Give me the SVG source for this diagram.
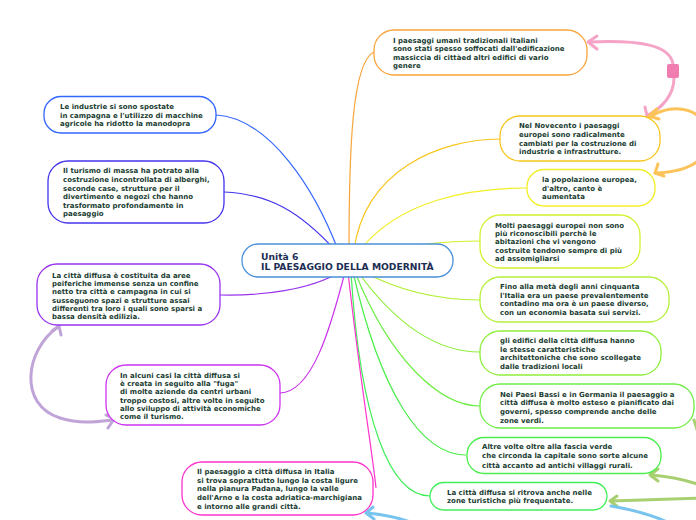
<svg xmlns="http://www.w3.org/2000/svg" width="696" height="520" viewBox="0 0 696 520">
<style>
.n{fill:#fff;stroke-width:1.3}
.t{font-family:"DejaVu Sans",Verdana,sans-serif;font-weight:bold;font-size:7px;fill:#1a3d32}
.c{font-family:"DejaVu Sans",Verdana,sans-serif;font-weight:bold;font-size:9.2px;fill:#1c2e54}
.l{fill:none;stroke-width:1.2}
.r{fill:none;stroke-width:3;stroke-linecap:round;stroke-linejoin:round}
</style>
<rect width="696" height="520" fill="#fff"/>
<g id="connectors">
<path class="l" stroke="#f7a53a" d="M349,250 C349,150 352,62 374,52"/>
<path class="l" stroke="#3366ff" d="M338,250 C315,190 270,118 216,115"/>
<path class="l" stroke="#4433ee" d="M335,250 C300,212 270,194 224,192"/>
<path class="l" stroke="#f8c51c" d="M354,250 C365,170 440,139 500,139"/>
<path class="l" stroke="#f2ee26" d="M360,250 C400,200 470,188 527,188"/>
<path class="l" stroke="#d4f02e" d="M365,255 C400,245 450,241 480,241"/>
<path class="l" stroke="#b4f038" d="M360,270 C400,292 440,300 480,300"/>
<path class="l" stroke="#90ee3c" d="M358,272 C400,330 440,352 480,352"/>
<path class="l" stroke="#6eed44" d="M355,272 C390,360 440,406 480,406"/>
<path class="l" stroke="#4aee4a" d="M353,272 C380,390 420,455 466,455"/>
<path class="l" stroke="#40ee58" d="M351,272 C360,420 390,496 430,496"/>
<path class="l" stroke="#ff33cc" d="M348,272 C360,380 372,450 376,488"/>
<path class="l" stroke="#9933ee" d="M340,272 C310,290 262,296 220,295"/>
<path class="l" stroke="#cc33ee" d="M345,272 C330,330 312,392 280,393"/>
<!-- relationship arrows -->
<path class="r" stroke="#f5a3c7" d="M673,64 C670,45 640,40 590,42"/>
<path class="r" stroke="#f5a3c7" d="M597,36 L588,42 L597,49"/>
<path class="r" stroke="#f5a3c7" d="M674,78 C674,95 662,108 648,115"/>
<path class="r" stroke="#f5a3c7" d="M645,107 L647,116 L656,113"/>
<rect x="667" y="64" width="12" height="14" rx="2" fill="#f07cb0"/>
<path class="r" stroke="#fcc35a" d="M650,117 C675,100 708,110 708,138 C708,165 680,172 655,173"/>
<path class="r" stroke="#fcc35a" d="M657,109 L649,116 L659,119"/>
<path class="r" stroke="#fcc35a" d="M658,164 L655,173 L664,176"/>
<path class="r" stroke="#c0a4d8" d="M58,327 C25,350 18,405 60,418 C80,424 95,422 112,420"/>
<path class="r" stroke="#c0a4d8" d="M52,331 L59,326 L61,335"/>
<path class="r" stroke="#c0a4d8" d="M106,415 L114,419 L108,428"/>
<path class="r" stroke="#a8d070" d="M700,485 C680,478 665,476 651,475"/>
<path class="r" stroke="#a8d070" d="M658,469 L650,475 L658,481"/>
<path class="r" stroke="#a8d070" d="M700,498 C670,499 640,500 611,501"/>
<path class="r" stroke="#a8d070" d="M617,496 L610,501 L617,506"/>
<path class="r" stroke="#a8d070" d="M700,440 C698,432 696,426 694,420"/>
<path class="r" stroke="#78c4ee" d="M611,506 C640,511 665,518 685,532"/>
<path class="r" stroke="#78c4ee" d="M367,513 C390,515 410,520 428,530"/>
<path class="r" stroke="#78c4ee" d="M373,507 L366,513 L374,519"/>
</g>
<g id="center">
<rect class="n" x="242" y="244" width="211" height="33" rx="16" stroke="#4a90d9"/>
<text class="c" x="261" y="259.5">Unità 6</text>
<text class="c" x="261" y="270">IL PAESAGGIO DELLA MODERNITÀ</text>
</g>
<g id="n1">
<rect class="n" x="374" y="30" width="213" height="45" rx="20" stroke="#f7a53a"/>
<text class="t" x="393"><tspan x="393" y="42.5">I paesaggi umani tradizionali italiani</tspan><tspan x="393" y="51">sono stati spesso soffocati dall'edificazione</tspan><tspan x="393" y="59.7">massiccia di cittàed altri edifici di vario</tspan><tspan x="393" y="68.2">genere</tspan></text>
</g>
<g id="n2">
<rect class="n" x="500" y="116" width="160" height="45" rx="20" stroke="#f8c51c"/>
<text class="t"><tspan x="519" y="128">Nel Novecento i paesaggi</tspan><tspan x="519" y="137">europei sono radicalmente</tspan><tspan x="519" y="146">cambiati per la costruzione di</tspan><tspan x="519" y="154.3">industrie e infrastrutture.</tspan></text>
</g>
<g id="n3">
<rect class="n" x="527" y="169.5" width="128" height="36.5" rx="17" stroke="#f2ee26"/>
<text class="t"><tspan x="542" y="182">la popolazione europea,</tspan><tspan x="542" y="191">d'altro, canto è</tspan><tspan x="542" y="199.3">aumentata</tspan></text>
</g>
<g id="n4">
<rect class="n" x="480" y="215" width="160" height="53" rx="20" stroke="#d4f02e"/>
<text class="t"><tspan x="495" y="227.5">Molti paesaggi europei non sono</tspan><tspan x="495" y="236">più riconoscibili perchè le</tspan><tspan x="495" y="244.3">abitazioni che vi vengono</tspan><tspan x="495" y="252.6">costruite tendono sempre di più</tspan><tspan x="495" y="261">ad assomigliarsi</tspan></text>
</g>
<g id="n5">
<rect class="n" x="480" y="277" width="189" height="45" rx="20" stroke="#b4f038"/>
<text class="t"><tspan x="500" y="288.5">Fino alla metà degli anni cinquanta</tspan><tspan x="500" y="297.5">l'Italia era un paese prevalentemente</tspan><tspan x="500" y="306">contadino ma ora è un paese diverso,</tspan><tspan x="500" y="315">con un economia basata sui servizi.</tspan></text>
</g>
<g id="n6">
<rect class="n" x="480" y="331" width="181" height="44" rx="20" stroke="#90ee3c"/>
<text class="t"><tspan x="500" y="343">gli edifici della città diffusa hanno</tspan><tspan x="500" y="351.7">le stesse caratteristiche</tspan><tspan x="500" y="360">architettoniche che sono scollegate</tspan><tspan x="500" y="368.5">dalle tradizioni locali</tspan></text>
</g>
<g id="n7">
<rect class="n" x="480" y="384" width="214" height="44" rx="20" stroke="#6eed44"/>
<text class="t"><tspan x="500" y="396.5">Nei Paesi Bassi e in Germania il paesaggio a</tspan><tspan x="500" y="405">città diffusa è molto esteso e pianificato dai</tspan><tspan x="500" y="413.5">governi, spesso comprende anche delle</tspan><tspan x="500" y="422.5">zone verdi.</tspan></text>
</g>
<g id="n8">
<rect class="n" x="467" y="437.5" width="194" height="36" rx="17" stroke="#4aee4a"/>
<text class="t"><tspan x="482" y="449">Altre volte oltre alla fascia verde</tspan><tspan x="482" y="458">che circonda la capitale sono sorte alcune</tspan><tspan x="482" y="467.5">città accanto ad antichi villaggi rurali.</tspan></text>
</g>
<g id="n9">
<rect class="n" x="430" y="482.5" width="177" height="27.5" rx="13.7" stroke="#40ee58"/>
<text class="t"><tspan x="447" y="494.8">La città diffusa si ritrova anche nelle</tspan><tspan x="447" y="503.2">zone turistiche più frequentate.</tspan></text>
</g>
<g id="n10">
<rect class="n" x="44" y="96.5" width="172" height="36.5" rx="17" stroke="#3366ff"/>
<text class="t"><tspan x="60" y="108.5">Le industrie si sono spostate</tspan><tspan x="60" y="117.5">in campagna e l'utilizzo di macchine</tspan><tspan x="60" y="126">agricole ha ridotto la manodopra</tspan></text>
</g>
<g id="n11">
<rect class="n" x="48" y="161" width="176" height="62" rx="20" stroke="#4433ee"/>
<text class="t"><tspan x="63" y="173">Il turismo di massa ha potrato alla</tspan><tspan x="63" y="182">costruzione incontrollata di alberghi,</tspan><tspan x="63" y="190.7">seconde case, strutture per il</tspan><tspan x="63" y="199">divertimento e negozi che hanno</tspan><tspan x="63" y="207.5">trasformato profondamente in</tspan><tspan x="63" y="216">paesaggio</tspan></text>
</g>
<g id="n12">
<rect class="n" x="37" y="264" width="183" height="61" rx="20" stroke="#9933ee"/>
<text class="t"><tspan x="52" y="277.5">La città diffusa è costituita da aree</tspan><tspan x="52" y="286">peiferiche immense senza un confine</tspan><tspan x="52" y="294.2">netto tra città e campagna in cui si</tspan><tspan x="52" y="302.5">susseguono spazi e strutture assai</tspan><tspan x="52" y="311">differenti tra loro i quali sono sparsi a</tspan><tspan x="52" y="319.3">bassa densità edilizia.</tspan></text>
</g>
<g id="n13">
<rect class="n" x="106" y="365" width="174" height="60" rx="20" stroke="#cc33ee"/>
<text class="t"><tspan x="120" y="377.5">In alcuni casi la città diffusa si</tspan><tspan x="120" y="386">è creata in seguito alla "fuga"</tspan><tspan x="120" y="394.2">di molte aziende da centri urbani</tspan><tspan x="120" y="402.5">troppo costosi, altre volte in seguito</tspan><tspan x="120" y="411">allo sviluppo di attività economiche</tspan><tspan x="120" y="419.3">come il turismo.</tspan></text>
</g>
<g id="n14">
<rect class="n" x="182" y="462" width="191" height="53" rx="20" stroke="#ff33cc"/>
<text class="t"><tspan x="197" y="474">Il paesaggio a città diffusa in Italia</tspan><tspan x="197" y="482.5">si trova soprattutto lungo la costa ligure</tspan><tspan x="197" y="491">nella pianura Padana, lungo la valle</tspan><tspan x="197" y="500">dell'Arno e la costa adriatica-marchigiana</tspan><tspan x="197" y="509">e intorno alle grandi città.</tspan></text>
</g>
</svg>
